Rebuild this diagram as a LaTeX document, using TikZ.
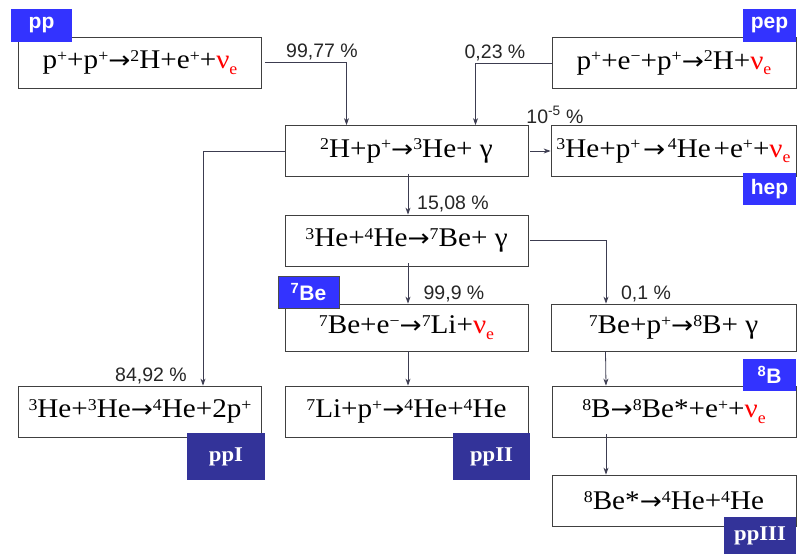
\documentclass[tikz,border=0pt]{standalone}
\usepackage{fontspec}
\setmainfont{Liberation Serif}[FakeStretch=1.08]
\newfontfamily\pcfont{Liberation Sans}
\newfontfamily\labfont{Liberation Sans}
\newfontfamily\arrfont{DejaVu Sans}[FakeStretch=1.1]
\usetikzlibrary{arrows.meta}
\definecolor{lblue}{RGB}{51,51,255}
\definecolor{dblue}{RGB}{51,51,153}
\definecolor{lin}{RGB}{60,60,80}
\newcommand{\sps}[1]{\raisebox{0.27em}{\fontsize{16.5}{16.5}\selectfont #1}}
\newcommand{\nue}{{\color{red}ν\raisebox{-0.22em}{\fontsize{16.5}{16.5}\selectfont e}}}
\newcommand{\ar}{{\arrfont\fontsize{24}{24}\selectfont →}}
\newcommand{\tsp}{\hspace{0.1em}}
\begin{document}
\begin{tikzpicture}[x=1pt,y=-1pt,
  rbox/.style={draw=black!75,line width=0.8pt,fill=white,minimum width=243pt,minimum height=51pt,inner sep=0pt,font=\fontsize{27}{27}\selectfont},
  sbox/.style={rbox,minimum height=47pt},
  blab/.style={fill=lblue,text=white,inner sep=0pt,font=\labfont\bfseries\fontsize{21}{21}\selectfont},
  dlab/.style={fill=dblue,text=white,inner sep=0pt,font=\bfseries\fontsize{21}{21}\selectfont},
  pct/.style={font=\pcfont\fontsize{19.5}{19.5}\selectfont,text=black!85,inner sep=0pt},
  arr/.style={draw=lin,line width=0.8pt,-{Stealth[length=7pt,width=5pt]}},
  con/.style={draw=lin,line width=0.8pt}]
\useasboundingbox (0,0) rectangle (798,554);
\fill[white] (0,0) rectangle (798,554);
% reaction boxes
\node[rbox] (b1) at (140,62.5) {p\sps{+}+p\sps{+}\ar\sps{2}H+e\sps{+}+\nue};
\node[rbox,minimum width=244pt] (pepb) at (674,63) {p\sps{+}+e\sps{−}+p\sps{+}\ar\sps{2}H+\nue};
\node[rbox] (b2) at (406.5,151) {\sps{2}H+p\sps{+}\ar\sps{3}He+ γ};
\node[rbox,minimum width=245pt] (hepb) at (673.5,151) {\sps{3}He+p\sps{+}\tsp\ar\tsp\sps{4}He\tsp+e\sps{+}+\nue};
\node[rbox] (b3) at (406.5,240.5) {\sps{3}He+\sps{4}He\ar\sps{7}Be+ γ};
\node[sbox] (b4) at (406.5,327.5) {\sps{7}Be+e\sps{−}\ar\sps{7}Li+\nue};
\node[sbox,minimum width=245pt] (b5) at (673.5,327.5) {\sps{7}Be+p\sps{+}\ar\sps{8}B+ γ};
\node[rbox] (b6) at (140,411.5) {\sps{3}He+\sps{3}He\ar\sps{4}He+2p\sps{+}};
\node[rbox] (b7) at (406.5,411.5) {\sps{7}Li+p\sps{+}\ar\sps{4}He+\sps{4}He};
\node[rbox,minimum width=244pt] (b8) at (674,411.5) {\sps{8}B\ar\sps{8}Be*+e\sps{+}+\nue};
\node[rbox,minimum width=244pt] (b9) at (674,500.5) {\sps{8}Be*\ar\sps{4}He+\sps{4}He};
% connectors
\draw[arr] ([xshift=3pt]b1.east) -| ([xshift=-60pt]b2.north);
\draw[arr] (pepb.west) -| ([xshift=69pt]b2.north);
\draw[arr] ([xshift=2pt]b2.east) -- (hepb.west);
\draw[arr] (b2.west) -| ([xshift=63pt]b6.north);
\draw[arr] ([xshift=1.5pt,yshift=3pt]b2.south) -- ([xshift=1.5pt]b3.north);
\draw[arr] ([xshift=2pt]b3.east) -| ([xshift=-67.5pt]b5.north);
\draw[arr] ([xshift=1.5pt,yshift=3pt]b3.south) -- ([xshift=1.5pt]b4.north);
\draw[arr] ([xshift=1.5pt]b4.south) -- ([xshift=1.5pt]b7.north);
\draw[arr] ([xshift=-68pt]b5.south) -- ([xshift=-68pt]b8.north);
\draw[arr] ([xshift=-68pt,yshift=3pt]b8.south) -- ([xshift=-68pt]b9.north);
% percentages
\node[pct] (p1) at (322,52) {99,77 \%};
\node[pct] (p2) at (495,53) {0,23 \%};
\node[pct] (p3) at (555,115) {10\textsuperscript{-5} \%};
\node[pct] (p4) at (453,204) {15,08 \%};
\node[pct] (p5) at (454,294) {99,9 \%};
\node[pct] (p6) at (646,294) {0,1 \%};
\node[pct] (p7) at (151,376) {84,92 \%};
% chain labels
\node[blab,minimum width=61pt,minimum height=33pt] (lpp) at (41.5,25.5) {pp};
\node[blab,minimum width=53pt,minimum height=33pt] (lpep) at (769.5,25.5) {pep};
\node[blab,minimum width=53pt,minimum height=32pt] (lhep) at (769.5,189) {hep};
\node[blab,draw=black!70,minimum width=61pt,minimum height=32pt] (lbe) at (308.5,292) {\textsuperscript{7}Be};
\node[blab,minimum width=53pt,minimum height=32pt] (lb) at (769.5,375) {\textsuperscript{8}B};
\node[dlab,minimum width=78pt,minimum height=47pt] (l1) at (226,456.5) {ppI};
\node[dlab,minimum width=77pt,minimum height=47pt] (l2) at (491.5,456.5) {ppII};
\node[dlab,minimum width=72pt,minimum height=37pt] (l3) at (760,535.5) {ppIII};
\end{tikzpicture}
\end{document}
